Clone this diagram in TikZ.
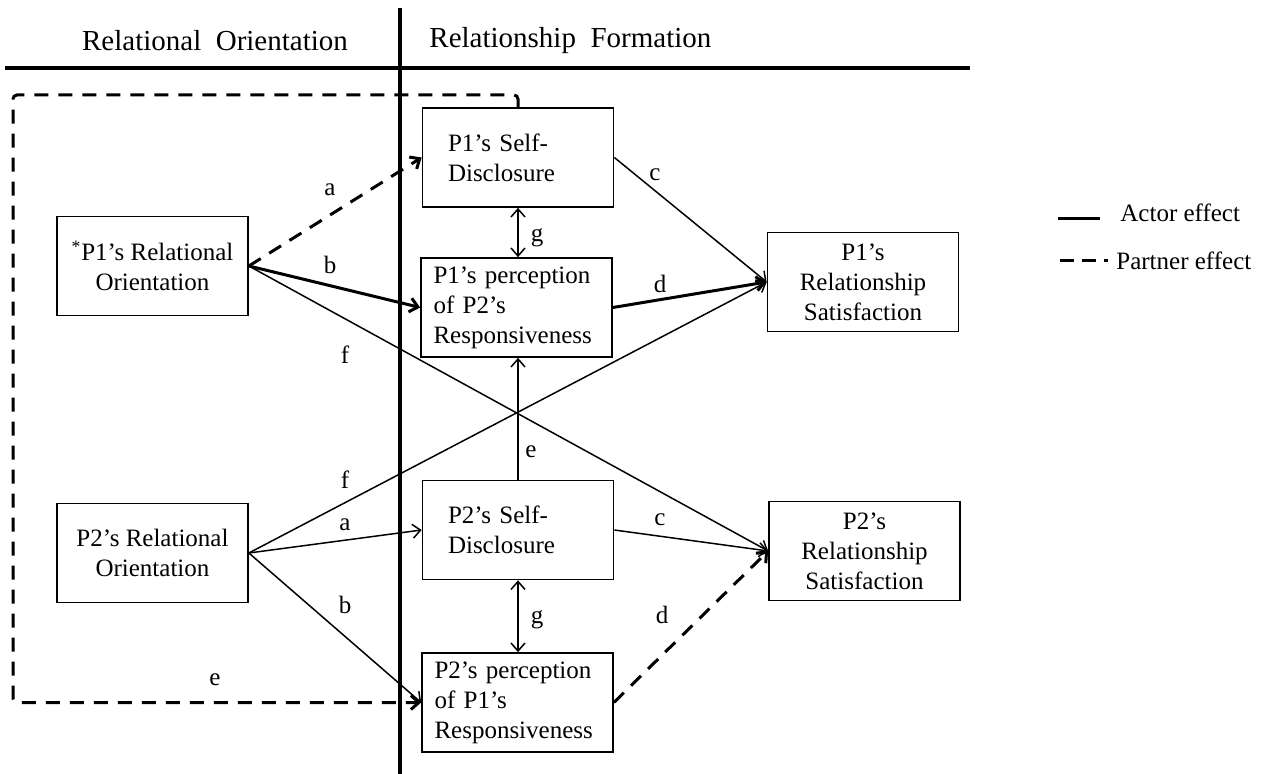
\documentclass[tikz,border=0pt]{standalone}
\usepackage{fontspec}
\setmainfont{Liberation Serif}
\usetikzlibrary{
  arrows.meta,
  positioning,
}
\tikzstyle{box} = [
  draw,
  line width=0.85pt,
  minimum width=95.5pt,
  minimum height=49.5pt,
  inner sep=0pt,
  align=center,
  font=\fontsize{12.5}{15}\selectfont,
]
\tikzstyle{sdbox} = [box, align=left, text width=70pt, inner xsep=12.75pt]
\tikzstyle{percbox} = [box, align=left, text width=83pt, inner xsep=6.25pt]
\tikzstyle{effect} = [
  -{Straight Barb[length=4pt,width=7pt]},
  line width=0.75pt,
]
\tikzstyle{strong} = [effect, line width=1.5pt]
\tikzstyle{partner} = [effect, line width=1.5pt, dash pattern=on 7pt off 5pt]
\tikzstyle{both} = [effect, {Straight Barb[length=4pt,width=7pt]}-{Straight Barb[length=4pt,width=7pt]}]
\tikzstyle{lbl} = [inner sep=0pt, font=\fontsize{12.5}{15}\selectfont]
\tikzstyle{head} = [inner sep=0pt, font=\fontsize{14.5}{17}\selectfont]

\begin{document}
\begin{tikzpicture}[x=0.5pt, y=-0.5pt]

        \useasboundingbox (0,0) rectangle (1267,774);

        %% header and divider
        \draw [line width=1.7pt] (5,68) -- (970,68);
        \draw [line width=1.7pt] (400,8) -- (400,774);

        \node [head] (hro) at (215,41) {Relational~~Orientation};
        \node [head, anchor=west] (hrf) at (429,41) {Relationship~~Formation};

        %% boxes
        \node [box] (p1ro) at (152.5,266) {\textsuperscript{*}P1’s Relational\\Orientation};
        \node [box] (p2ro) at (152.5,553) {P2’s Relational\\Orientation};

        \node [sdbox] (p1sd) at (518,157.5) {P1’s Self-\\Disclosure};
        \node [percbox] (p1perc) at (516.5,307.5) {P1’s perception\\of P2’s\\Responsiveness};
        \node [sdbox] (p2sd) at (518,530) {P2’s Self-\\Disclosure};
        \node [percbox] (p2perc) at (517.5,702.5) {P2’s perception\\of P1’s\\Responsiveness};

        \node [box] (p1rs) at (863,282) {P1’s\\Relationship\\Satisfaction};
        \node [box] (p2rs) at (864.5,551) {P2’s\\Relationship\\Satisfaction};

        %% paths
        \draw [partner] (p1ro.east) -- (p1sd.west);
        \draw [strong] (p1ro.east) -- (p1perc.west);
        \draw [effect] (p1ro.east) -- (p2rs.west);

        \draw [effect] (p2ro.east) -- (p1rs.west);
        \draw [effect] (p2ro.east) -- (p2sd.west);
        \draw [effect] (p2ro.east) -- (p2perc.west);

        \draw [effect] (p1sd.east) -- (p1rs.west);
        \draw [strong] (p1perc.east) -- (p1rs.west);
        \draw [effect] (p2sd.east) -- (p2rs.west);
        \draw [partner] (p2perc.east) -- (p2rs.west);

        \draw [both] (p1sd.south) -- (p1sd.south |- p1perc.north);
        \draw [both] (p2sd.south) -- (p2sd.south |- p2perc.north);
        \draw [effect] (p2sd.north) -- (p2sd.north |- p1perc.south);

        \draw [partner, rounded corners=2pt] (p1sd.north) |- (13,95) -- (13,0 |- p2perc.west) -- (p2perc.west);

        %% labels
        \node [lbl] (la1) at (330,190) {a};
        \node [lbl] (lb1) at (330,265) {b};
        \node [lbl] (lf1) at (345,355) {f};
        \node [lbl] (lg1) at (537,238) {g};
        \node [lbl] (lc1) at (655,175) {c};
        \node [lbl] (ld1) at (660,284) {d};

        \node [lbl] (lf2) at (345,480) {f};
        \node [lbl] (la2) at (345,525) {a};
        \node [lbl] (lb2) at (345,605) {b};
        \node [lbl] (le2) at (531,452) {e};
        \node [lbl] (lc2) at (660,520) {c};
        \node [lbl] (lg2) at (537,620) {g};
        \node [lbl] (ld2) at (662,615) {d};
        \node [lbl] (le1) at (215,680) {e};

        %% legend
        \draw [line width=1.5pt] (1058,219) -- (1100,219);
        \draw [line width=1.5pt, dash pattern=on 7pt off 4pt] (1060,261) -- (1108,261);
        \node [lbl, anchor=west] (lact) at (1120,213) {Actor effect};
        \node [lbl, anchor=west] (lpart) at (1116,261) {Partner effect};
      \end{tikzpicture}
\end{document}
